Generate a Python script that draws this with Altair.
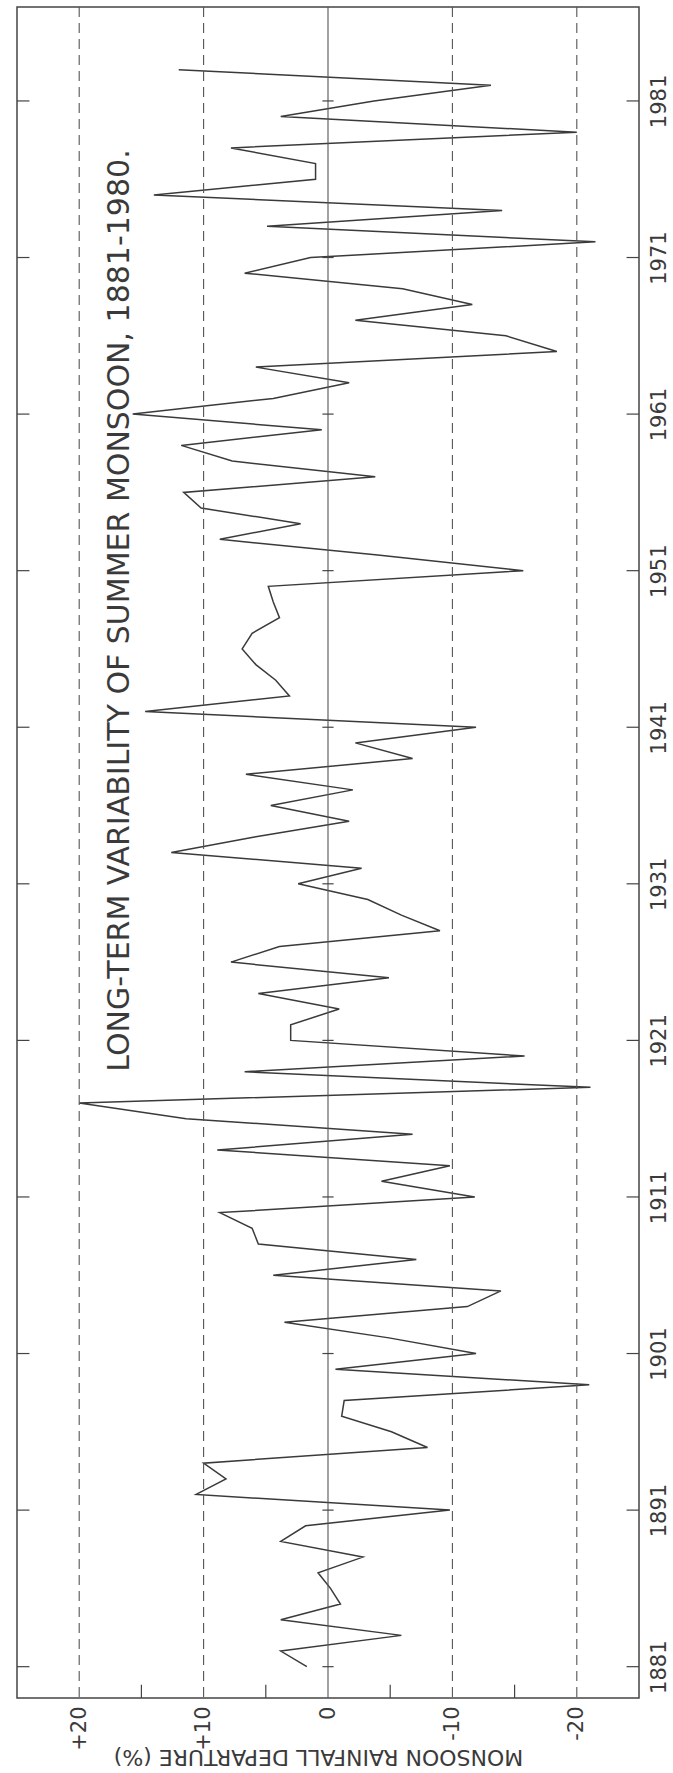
import altair as alt
import pandas as pd

years = list(range(1881, 1984))
departure = [
    1.7, 3.8, -5.9, 3.8, -1.0, -0.2, 0.8, -2.8, 3.8, 1.8,        # 1881-1890
    -9.8, 10.6, 8.2, 10.0, -8.0, -5.1, -1.1, -1.3, -21.0, -0.6,  # 1891-1900
    -11.9, -4.9, 3.5, -11.2, -13.9, 4.4, -7.1, 5.6, 6.1, 8.7,    # 1901-1910
    -11.8, -4.3, -9.8, 8.9, -6.8, 11.4, 20.0, -21.1, 6.7, -15.8, # 1911-1920
    3.0, 3.0, -0.9, 5.6, -4.9, 7.8, 3.9, -9.0, -5.9, -3.2,       # 1921-1930
    2.4, -2.7, 12.6, 5.8, -1.7, 4.6, -2.0, 6.6, -6.8, -2.2,      # 1931-1940
    -11.9, 14.7, 3.1, 4.2, 5.8, 6.9, 6.1, 3.9, 4.4, 4.8,         # 1941-1950
    -15.7, -4.0, 8.7, 2.2, 10.2, 11.6, -3.8, 7.7, 11.8, 0.5,     # 1951-1960
    15.7, 4.4, -1.7, 5.8, -18.4, -14.3, -2.2, -11.6, -6.0, 6.7,  # 1961-1970
    1.4, -21.5, 4.9, -14.0, 14.0, 1.0, 1.0, 7.8, -20.0, 3.8,     # 1971-1980
    -3.7, -13.1, 12.0,                                           # 1981-1983
]
grid_dashed = [20, 10, -10, -20]
grid_zero = [0]
minor_ticks = [15, 5, -5, -15]
decade_years = list(range(1881, 1982, 10))
value_ticks = [20, 10, 0, -10, -20]
title_text = "LONG-TERM VARIABILITY OF SUMMER MONSOON, 1881-1980."
axis_title = "MONSOON RAINFALL DEPARTURE (%)"

FONT = "DejaVu Sans"
INK = "#3a3a3a"

df = pd.DataFrame({"year": years, "dep": departure})
xs = alt.Scale(domain=[-25, 25], reverse=True, nice=False, zero=False)
ys = alt.Scale(domain=[1879, 1987], nice=False, zero=False)

x_axis = alt.Axis(
    values=value_ticks, labelAngle=270, labelAlign="right", labelBaseline="middle",
    labelFontSize=21, labelPadding=8, labelFont=FONT, labelColor=INK,
    labelExpr="datum.value > 0 ? '+' + datum.value : (datum.value < 0 ? '-' + abs(datum.value) : '0')",
    domain=False, ticks=False, grid=False,
    title=axis_title, titleAngle=180, titleFontSize=22, titleFontWeight="normal",
    titleFont=FONT, titleColor=INK, titleY=58, titleX=301, titleAlign="center",
    titleBaseline="middle",
)
y_axis = alt.Axis(
    orient="right", values=decade_years, format="d", labelAngle=270,
    labelAlign="center", labelBaseline="middle", labelFontSize=21, labelPadding=20,
    labelFont=FONT, labelColor=INK, domain=False, ticks=False, grid=False, title="",
)

X = lambda f: alt.X(f, type="quantitative", scale=xs)
Y = lambda f: alt.Y(f, type="quantitative", scale=ys)

line = alt.Chart(df).mark_line(color=INK, strokeWidth=1.5).encode(
    x=alt.X("dep:Q", scale=xs, axis=x_axis),
    y=alt.Y("year:Q", scale=ys, axis=y_axis),
    order=alt.Order("year:Q"),
)

dashed = alt.Chart(pd.DataFrame({"dep": grid_dashed})).mark_rule(
    color="#555555", strokeWidth=1.1, strokeDash=[10, 6]
).encode(x=X("dep"))

zero = alt.Chart(pd.DataFrame({"dep": grid_zero})).mark_rule(
    color="#555555", strokeWidth=1.1
).encode(x=X("dep"))

bt = pd.DataFrame({"dep": minor_ticks, "y0": [1879.0] * 4, "y1": [1879.85] * 4})
bottom_ticks = alt.Chart(bt).mark_rule(color="#444444", strokeWidth=1.2).encode(
    x=X("dep"), y=Y("y0"), y2="y1:Q"
)

n = len(decade_years)
edge = pd.DataFrame({
    "year": decade_years * 3,
    "a": [25.0] * n + [-25.0] * n + [0.45] * n,
    "b": [24.0] * n + [-24.0] * n + [-0.45] * n,
})
edge_ticks = alt.Chart(edge).mark_rule(color="#444444", strokeWidth=1.2).encode(
    y=Y("year"), x=X("a"), x2="b:Q"
)

title = alt.Chart(pd.DataFrame({"dep": [16.7], "year": [1919.0], "t": [title_text]})).mark_text(
    angle=270, align="left", baseline="middle", fontSize=30, font=FONT, color=INK
).encode(x=X("dep"), y=Y("year"), text="t:N")

chart = alt.layer(
    line, dashed, zero, bottom_ticks, edge_ticks, title
).properties(
    width=622, height=1691,
    padding={"left": 17, "top": 7, "right": 34, "bottom": 75},
    autosize="none", background="white",
).configure_view(stroke="#444444", strokeWidth=1.5)

chart.save("out.html", embed_options={"renderer": "svg", "actions": False})
